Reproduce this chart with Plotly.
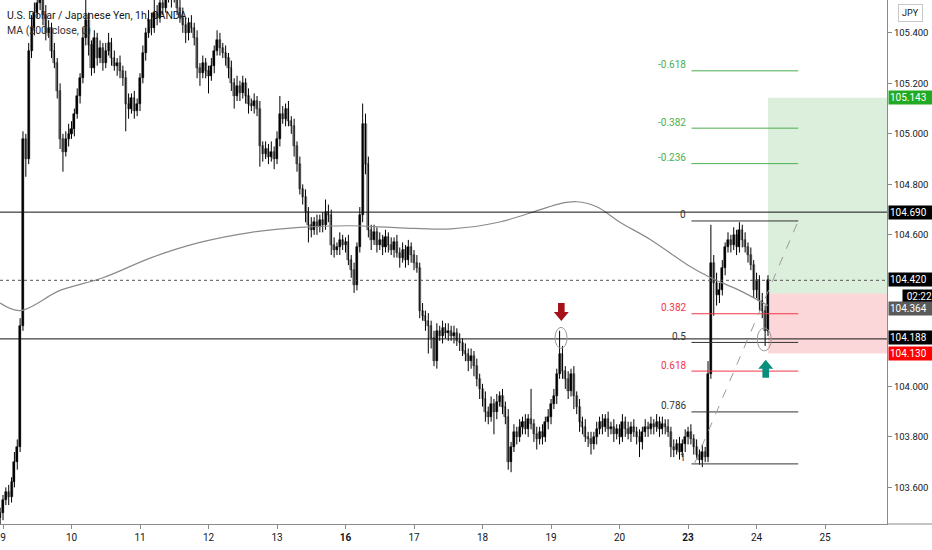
import plotly.graph_objects as go

# ---- hourly USDJPY candles (closes per trading day) ----
day_labels = ["9", "10", "11", "12", "13", "<b>16</b>", "17", "18", "19", "20", "<b>23</b>", "24", "25"]
price_ticks = [103.6, 103.8, 104.0, 104.6, 104.8, 105.0, 105.2, 105.4]   # 104.2/104.4 hidden by labels

first_open = 103.48
c_pre = [103.50]
c09 = [103.55, 103.58, 103.56, 103.62, 103.70, 103.76, 104.24, 104.98, 104.90, 105.33, 105.42, 105.48,
       105.52, 105.56, 105.47, 105.40, 105.42, 105.33, 105.28, 105.17, 104.98, 104.93, 104.98, 105.00]
c10 = [105.02, 105.08, 105.15, 105.22, 105.38, 105.45, 105.35, 105.26, 105.38, 105.30, 105.34, 105.28,
       105.33, 105.36, 105.30, 105.27, 105.28, 105.25, 105.22, 105.12, 105.10, 105.14, 105.09, 105.12]
c11 = [105.22, 105.32, 105.40, 105.45, 105.42, 105.48, 105.46, 105.52, 105.50, 105.55, 105.58, 105.54,
       105.56, 105.50, 105.46, 105.43, 105.40, 105.44, 105.42, 105.38, 105.26, 105.24, 105.28, 105.25]
c12 = [105.23, 105.27, 105.33, 105.37, 105.34, 105.32, 105.30, 105.26, 105.20, 105.15, 105.19, 105.16,
       105.20, 105.15, 105.12, 105.11, 105.13, 105.10, 104.95, 104.92, 104.94, 104.91, 104.93, 104.90]
c13 = [104.98, 105.08, 105.06, 105.10, 105.05, 105.03, 104.95, 104.88, 104.78, 104.75, 104.69, 104.64,
       104.62, 104.65, 104.63, 104.66, 104.64, 104.69, 104.68, 104.56, 104.54, 104.55, 104.58, 104.56]
c16 = [104.57, 104.50, 104.46, 104.40, 104.55, 104.68, 105.04, 104.88, 104.62, 104.58, 104.61, 104.56,
       104.58, 104.55, 104.59, 104.56, 104.54, 104.57, 104.53, 104.51, 104.54, 104.50, 104.55, 104.52]
c17 = [104.49, 104.47, 104.30, 104.28, 104.26, 104.24, 104.19, 104.10, 104.22, 104.20, 104.23, 104.21,
       104.22, 104.20, 104.21, 104.18, 104.17, 104.14, 104.13, 104.10, 104.12, 104.08, 104.03, 103.99]
c18 = [103.95, 103.90, 103.88, 103.93, 103.90, 103.94, 103.96, 103.92, 103.88, 103.70, 103.76, 103.82,
       103.80, 103.84, 103.86, 103.83, 103.87, 103.85, 103.81, 103.79, 103.82, 103.80, 103.86, 103.88]
c19 = [103.93, 103.96, 104.05, 104.13, 104.06, 104.03, 103.98, 104.05, 103.96, 103.92, 103.86, 103.84,
       103.80, 103.79, 103.77, 103.80, 103.83, 103.86, 103.84, 103.87, 103.83, 103.84, 103.81, 103.83]
c20 = [103.80, 103.86, 103.83, 103.81, 103.84, 103.82, 103.80, 103.78, 103.82, 103.84, 103.83, 103.85,
       103.84, 103.86, 103.83, 103.85, 103.84, 103.82, 103.76, 103.75, 103.77, 103.74, 103.77, 103.80]
c23 = [103.82, 103.79, 103.76, 103.73, 103.71, 103.74, 103.72, 104.05, 104.49, 104.41, 104.36, 104.38,
       104.47, 104.55, 104.58, 104.56, 104.60, 104.55, 104.62, 104.58, 104.55, 104.52, 104.48, 104.38]
c24 = [104.42, 104.34, 104.30, 104.22, 104.42]

# wick lengths in 0.01 yen (upper / lower)
u_pre = [2]
d_pre = [3]
u09 = [2, 2, 3, 2, 4, 3, 3, 3, 2, 3, 5, 4, 6, 5, 3, 4, 3, 2, 3, 2, 3, 2, 3, 4]
d09 = [3, 2, 3, 2, 2, 3, 2, 2, 7, 2, 3, 3, 2, 3, 4, 3, 2, 3, 2, 3, 4, 8, 2, 3]
u10 = [3, 2, 3, 2, 4, 8, 3, 2, 3, 2, 3, 2, 3, 4, 2, 3, 2, 3, 2, 3, 4, 2, 3, 2]
d10 = [2, 3, 2, 3, 2, 3, 4, 3, 2, 3, 2, 3, 2, 2, 3, 2, 4, 3, 3, 11, 4, 2, 3, 2]
u11 = [2, 3, 2, 4, 3, 5, 3, 6, 4, 5, 6, 3, 4, 2, 3, 4, 3, 2, 3, 2, 3, 2, 3, 2]
d11 = [3, 2, 3, 2, 3, 2, 3, 2, 3, 2, 3, 4, 2, 3, 2, 3, 4, 3, 2, 3, 4, 5, 2, 3]
u12 = [2, 3, 2, 4, 3, 2, 3, 2, 3, 2, 4, 2, 3, 2, 3, 2, 3, 2, 3, 2, 3, 2, 4, 2]
d12 = [7, 2, 3, 2, 3, 2, 3, 4, 3, 5, 2, 3, 2, 3, 4, 2, 3, 3, 8, 3, 2, 3, 2, 4]
u13 = [3, 7, 3, 2, 3, 2, 3, 2, 3, 2, 3, 2, 3, 2, 3, 2, 3, 5, 3, 2, 3, 2, 3, 2]
d13 = [2, 3, 2, 3, 2, 3, 4, 3, 2, 3, 4, 7, 3, 2, 3, 2, 3, 2, 3, 4, 3, 2, 3, 2]
u16 = [2, 3, 2, 3, 2, 3, 8, 4, 3, 2, 3, 2, 3, 2, 3, 2, 3, 2, 3, 2, 3, 2, 3, 2]
d16 = [3, 2, 3, 3, 2, 2, 3, 4, 3, 4, 2, 3, 2, 3, 2, 3, 2, 3, 2, 4, 2, 3, 2, 3]
u17 = [2, 3, 2, 3, 2, 3, 2, 3, 3, 2, 3, 2, 3, 2, 3, 2, 3, 2, 3, 2, 3, 2, 3, 2]
d17 = [3, 2, 3, 2, 4, 11, 4, 2, 3, 2, 3, 2, 3, 2, 3, 2, 3, 2, 3, 4, 3, 4, 3, 4]
u18 = [2, 3, 2, 3, 2, 3, 2, 3, 2, 3, 2, 3, 2, 3, 2, 3, 2, 12, 2, 3, 2, 3, 2, 3]
d18 = [3, 4, 3, 2, 9, 3, 2, 3, 3, 3, 4, 2, 3, 2, 3, 2, 3, 2, 3, 4, 2, 3, 2, 3]
u19 = [2, 3, 2, 9, 3, 2, 3, 2, 3, 2, 3, 2, 3, 2, 3, 2, 3, 2, 3, 2, 3, 2, 3, 2]
d19 = [3, 2, 3, 2, 3, 4, 3, 2, 5, 3, 4, 3, 2, 3, 4, 2, 3, 2, 3, 2, 3, 2, 3, 2]
u20 = [2, 3, 2, 3, 2, 3, 2, 3, 2, 3, 2, 3, 2, 3, 2, 3, 2, 3, 2, 3, 2, 3, 2, 3]
d20 = [3, 2, 3, 2, 3, 2, 3, 6, 3, 2, 3, 2, 3, 2, 3, 2, 3, 2, 4, 3, 2, 3, 2, 3]
u23 = [2, 3, 2, 3, 2, 3, 2, 5, 15, 3, 4, 3, 3, 2, 3, 2, 3, 2, 3, 2, 3, 2, 3, 2]
d23 = [3, 2, 3, 2, 2, 3, 2, 2, 2, 13, 4, 3, 2, 3, 2, 3, 2, 3, 2, 3, 2, 3, 2, 3]
u24 = [3, 2, 3, 2, 2]
d24 = [3, 4, 3, 6, 2]

# MA(200) read at a few bar positions
ma_bar = [-1, 6, 20, 35, 52, 69, 87, 104, 122, 139, 157, 174, 188, 195, 201, 208, 216, 227, 240, 248, 258, 268]
ma_val = [104.33, 104.30, 104.38, 104.43, 104.51, 104.57, 104.61, 104.63, 104.636, 104.628, 104.624, 104.651,
          104.699, 104.723, 104.731, 104.711, 104.651, 104.58, 104.48, 104.43, 104.38, 104.32]

# drawings
hlines = [104.690, 104.188]
last_line = 104.420
fib_top, fib_bot = 104.655, 103.693
fib_levels = [-0.618, -0.382, -0.236, 0, 0.382, 0.5, 0.618, 0.786, 1]
fib_bar0, fib_bar1 = 241.2, 278.6
fib_low_bar = 242.2
pos_bar = 268
pos_target, pos_entry, pos_stop = 105.143, 104.368, 104.130

# (text, price, background, vertical nudge in px)
axis_labels = [
    ("105.143", 105.143, "#22ab22", 0),
    ("104.690", 104.690, "#000000", 0),
    ("104.420", 104.420, "#000000", 1),
    ("02:22", 104.364, "#000000", -2),
    ("104.364", 104.364, "#5a5a5a", -14),
    ("104.188", 104.188, "#000000", 1),
    ("104.130", 104.130, "#ff0000", 0),
]

# ---- build candles ----
closes = c_pre + c09 + c10 + c11 + c12 + c13 + c16 + c17 + c18 + c19 + c20 + c23 + c24
ups = u_pre + u09 + u10 + u11 + u12 + u13 + u16 + u17 + u18 + u19 + u20 + u23 + u24
dns = d_pre + d09 + d10 + d11 + d12 + d13 + d16 + d17 + d18 + d19 + d20 + d23 + d24
opens = [first_open] + closes[:-1]
highs = [max(o, c) + u / 100 for o, c, u in zip(opens, closes, ups)]
lows = [min(o, c) - d / 100 for o, c, d in zip(opens, closes, dns)]
bars = list(range(-1, len(closes) - 1))

x_min, x_max = -1.05, 309.7
y_min, y_max = 103.455, 105.53
W, H = 932, 550
ML, MR, MT, MB = 0, 45, 0, 26
px_x = (W - ML - MR) / (x_max - x_min)   # px per bar
px_y = (H - MT - MB) / (y_max - y_min)   # px per yen

FONT = "Roboto, sans-serif"

# wicks as one broken line, bodies as floating bars
wx, wy = [], []
for b, h, l in zip(bars, highs, lows):
    wx += [b, b, None]
    wy += [l, h, None]
body_base = [min(o, c) for o, c in zip(opens, closes)]
body_len = [max(abs(c - o), 0.003) for o, c in zip(opens, closes)]
body_fill = ["#000000" if c >= o else "#8c8c8c" for o, c in zip(opens, closes)]
body_edge = ["#000000" if c >= o else "#3a3a3a" for o, c in zip(opens, closes)]

fig = go.Figure()
fig.add_trace(go.Scatter(x=wx, y=wy, mode="lines", line=dict(color="#000000", width=1),
                         showlegend=False, hoverinfo="skip"))
fig.add_trace(go.Bar(x=bars, y=body_len, base=body_base, width=0.72,
                     marker=dict(color=body_fill, line=dict(color=body_edge, width=0.5)),
                     showlegend=False, hoverinfo="skip"))
fig.add_trace(go.Scatter(x=ma_bar, y=ma_val, mode="lines", line=dict(color="#8a8a8a", width=1.2, shape="spline"),
                         showlegend=False, hoverinfo="skip"))

shapes = []
# position boxes
shapes.append(dict(type="rect", xref="x", yref="y", x0=pos_bar, x1=x_max, y0=pos_entry, y1=pos_target,
                   fillcolor="rgba(76,175,80,0.2)", line=dict(width=0), layer="below"))
shapes.append(dict(type="rect", xref="x", yref="y", x0=pos_bar, x1=x_max, y0=pos_stop, y1=pos_entry,
                   fillcolor="rgba(242,54,69,0.2)", line=dict(width=0), layer="below"))
# horizontal lines
for p in hlines:
    shapes.append(dict(type="line", xref="paper", yref="y", x0=0, x1=1, y0=p, y1=p,
                       line=dict(color="#111111", width=1)))
shapes.append(dict(type="line", xref="paper", yref="y", x0=0, x1=1, y0=last_line, y1=last_line,
                   line=dict(color="#555555", width=1, dash="dot")))
# fib retracement
annotations = []
for lv in fib_levels:
    p = fib_top - lv * (fib_top - fib_bot)
    if lv < 0:
        col = "#4caf50"
    elif lv in (0.382, 0.618):
        col = "#f23645"
    else:
        col = "#333333"
    shapes.append(dict(type="line", xref="x", yref="y", x0=fib_bar0, x1=fib_bar1, y0=p, y1=p,
                       line=dict(color=col, width=1)))
    annotations.append(dict(x=fib_bar0, y=p, xref="x", yref="y", text="%g" % lv, showarrow=False,
                            xanchor="right", yanchor="middle", xshift=-3, yshift=6,
                            font=dict(family=FONT, size=10, color=col)))
shapes.append(dict(type="line", xref="x", yref="y", x0=fib_low_bar, x1=fib_bar1, y0=fib_bot, y1=fib_top,
                   line=dict(color="#9a9a9a", width=1, dash="dash")))

# ellipses around the retest points
for cb, cp, wpx, hpx in [(195.5, 104.192, 12, 21), (266.7, 104.186, 14, 23)]:
    shapes.append(dict(type="circle", xref="x", yref="y",
                       x0=cb - wpx / 2 / px_x, x1=cb + wpx / 2 / px_x,
                       y0=cp - hpx / 2 / px_y, y1=cp + hpx / 2 / px_y,
                       line=dict(color="#9a9a9a", width=1)))


def arrow(cb, tip, down, color):
    hw, sw, hh, sh = 7.5 / px_x, 3.3 / px_x, 9 / px_y, 9 / px_y
    s = 1 if down else -1
    pts = [(cb, tip), (cb - hw, tip + s * hh), (cb - sw, tip + s * hh), (cb - sw, tip + s * (hh + sh)),
           (cb + sw, tip + s * (hh + sh)), (cb + sw, tip + s * hh), (cb + hw, tip + s * hh)]
    path = "M " + " L ".join("%.4f,%.5f" % q for q in pts) + " Z"
    return dict(type="path", xref="x", yref="y", path=path, fillcolor=color, line=dict(width=0))


shapes.append(arrow(195.6, 104.259, True, "#a5121b"))
shapes.append(arrow(267.2, 104.105, False, "#0a8f7e"))
# x-axis line continuing under the price scale
shapes.append(dict(type="line", xref="paper", yref="paper", x0=1, x1=1 + MR / (W - MR), y0=0, y1=0,
                   line=dict(color="#8a8a8a", width=1)))

# price-scale labels
for txt, p, bg, dy in axis_labels:
    short = len(txt) < 6
    annotations.append(dict(x=1, y=p, xref="paper", yref="y", text=txt, showarrow=False, xanchor="left",
                            yanchor="middle", xshift=15 if short else 1, yshift=dy,
                            width=28 if short else 42, height=11, align="right" if short else "left",
                            bgcolor=bg, borderpad=1, font=dict(family=FONT, size=10, color="#ffffff")))
annotations.append(dict(x=1, y=1, xref="paper", yref="paper", text="JPY", showarrow=False, xanchor="center",
                        yanchor="middle", xshift=23, yshift=-13, bordercolor="#c8c8c8", borderwidth=1,
                        borderpad=3, bgcolor="#ffffff", font=dict(family=FONT, size=9, color="#131722")))
# legend text
annotations.append(dict(x=0, y=1, xref="paper", yref="paper", text="U.S. Dollar / Japanese Yen, 1h, OANDA",
                        showarrow=False, xanchor="left", yanchor="top", xshift=5, yshift=-7,
                        font=dict(family=FONT, size=10.5, color="#131722")))
annotations.append(dict(x=0, y=1, xref="paper", yref="paper", text="MA (200, close, 0)",
                        showarrow=False, xanchor="left", yanchor="top", xshift=5, yshift=-22,
                        font=dict(family=FONT, size=10.5, color="#333333")))

fig.update_layout(
    width=W, height=H, margin=dict(l=ML, r=MR, t=MT, b=MB),
    paper_bgcolor="#ffffff", plot_bgcolor="#ffffff", bargap=0,
    shapes=shapes, annotations=annotations, showlegend=False,
    xaxis=dict(range=[x_min, x_max], showgrid=False, zeroline=False,
               tickvals=[24 * k for k in range(len(day_labels))], ticktext=day_labels,
               ticks="outside", ticklen=4, tickcolor="#8a8a8a", showline=True, linecolor="#8a8a8a",
               tickfont=dict(family=FONT, size=10, color="#131722")),
    yaxis=dict(range=[y_min, y_max], side="right", showgrid=False, zeroline=False, tickformat=".3f",
               tickvals=price_ticks, ticks="outside", ticklen=4, tickcolor="#8a8a8a",
               showline=True, linecolor="#8a8a8a", tickfont=dict(family=FONT, size=9.5, color="#131722")),
)

fig.write_html("out.html", config={"displayModeBar": False},
               post_script="document.body.style.margin='0';")
